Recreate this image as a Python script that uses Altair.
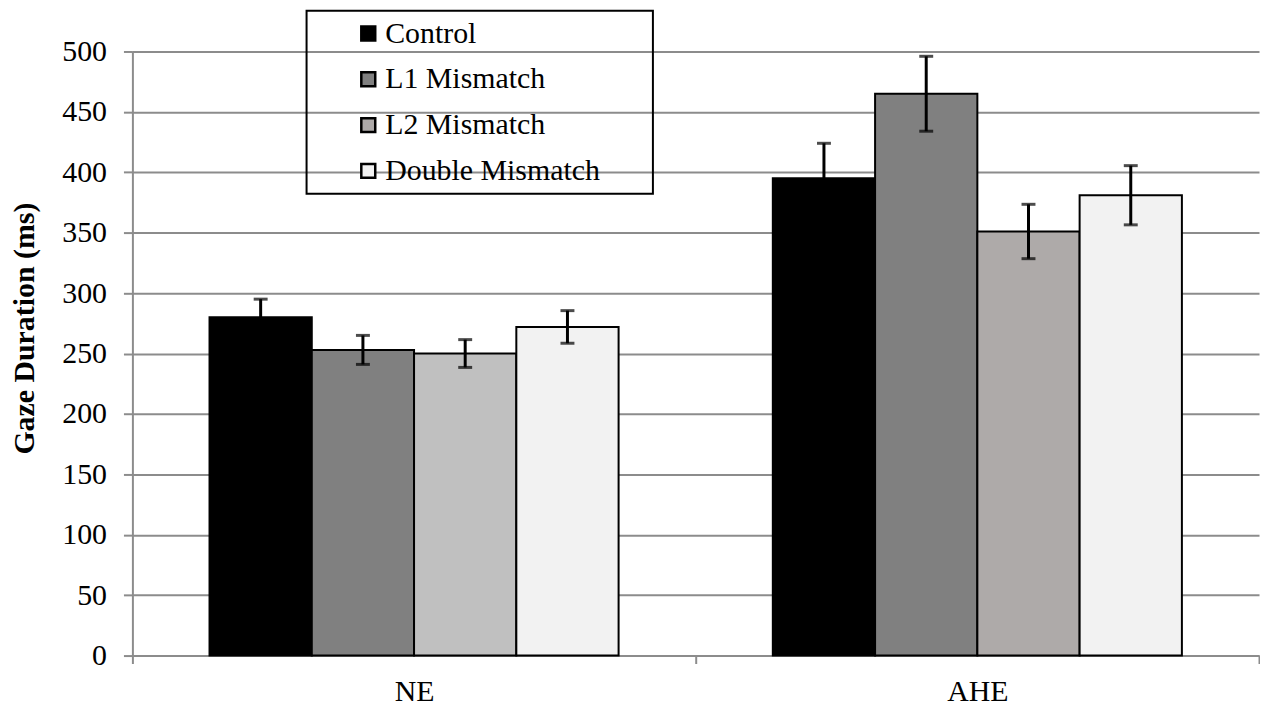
import altair as alt
import pandas as pd

groups = ["NE", "AHE"]
conditions = ["Control", "L1 Mismatch", "L2 Mismatch", "Double Mismatch"]
ne_means = [280, 253, 250, 272]
ne_errors = [15, 12, 11.5, 13.5]
ahe_means = [395, 465, 351, 381]
ahe_errors = [29, 31, 22.5, 24.5]
y_ticks = [0, 50, 100, 150, 200, 250, 300, 350, 400, 450, 500]

rows = []
for g, means, errs in [("NE", ne_means, ne_errors), ("AHE", ahe_means, ahe_errors)]:
    for c, m, e in zip(conditions, means, errs):
        rows.append({"group": g, "condition": c, "mean": m, "lo": m - e, "hi": m + e})
df = pd.DataFrame(rows)

FONT = "Liberation Serif"
GRAY = "#8c8c8c"
palette = ["#000000", "#808080", "#aeaaa9", "#f2f2f2"]

x_enc = alt.X(
    "group:N",
    sort=groups,
    scale=alt.Scale(paddingInner=0, paddingOuter=0),
    axis=alt.Axis(
        title=None, labelAngle=0, tickBand="extent", grid=False,
        labelFont=FONT, labelFontSize=30, labelColor="black",
        labelBaseline="alphabetic", labelPadding=37,
        tickSize=8, tickColor=GRAY, tickWidth=2,
        domainColor=GRAY, domainWidth=2,
    ),
)
xoff_enc = alt.XOffset(
    "condition:N", sort=conditions,
    scale=alt.Scale(paddingInner=0, paddingOuter=0.754),
)
y_enc = alt.Y(
    "mean:Q",
    scale=alt.Scale(domain=[0, 500], nice=False, zero=True),
    axis=alt.Axis(
        values=y_ticks, title="Gaze Duration (ms)",
        titleFont=FONT, titleFontSize=30, titleFontWeight="bold", titleColor="black",
        titleAngle=270, titleX=-99, titleY=278, titleAlign="center", titleBaseline="alphabetic",
        labelFont=FONT, labelFontSize=30, labelColor="black", labelPadding=17,
        tickSize=9, tickColor=GRAY, tickWidth=2,
        domainColor=GRAY, domainWidth=2,
        gridColor=GRAY, gridWidth=2,
    ),
)

pad_tail = "\u00a0" * 6 + "\u200b"
fill_enc = alt.condition(
    "datum.group == 'NE' && datum.condition == 'L2 Mismatch'",
    alt.value("#c0c0c0"),
    alt.Fill(
        "condition:N", sort=conditions,
        scale=alt.Scale(domain=conditions, range=palette),
        legend=alt.Legend(
            title=None, orient="none", legendX=175, legendY=-41, direction="vertical",
            padding=8, strokeColor="black",
            symbolType="square", symbolSize=196, symbolStrokeColor="black", symbolStrokeWidth=2.5,
            symbolOffset=39, labelOffset=2,
            labelFont=FONT, labelFontSize=30, labelColor="black", labelLimit=1000,
            rowPadding=16, labelExpr="datum.label + '" + pad_tail + "'",
        ),
    ),
)

base = alt.Chart(df)
bars = base.mark_bar(stroke="black", strokeWidth=2).encode(
    x=x_enc, xOffset=xoff_enc, y=y_enc, fill=fill_enc
)
rule = base.mark_rule(color="black", strokeWidth=3).encode(
    x=x_enc, xOffset=xoff_enc, y=alt.Y("lo:Q"), y2=alt.Y2("hi:Q")
)
cap_hi = base.mark_tick(color="black", thickness=3, size=14).encode(
    x=x_enc, xOffset=xoff_enc, y=alt.Y("hi:Q")
)
cap_lo = base.mark_tick(color="black", thickness=3, size=14).encode(
    x=x_enc, xOffset=xoff_enc, y=alt.Y("lo:Q")
)

chart = (
    alt.layer(bars, rule, cap_hi, cap_lo)
    .properties(
        width=1132, height=607, autosize="none",
        padding={"left": 125, "top": 42, "right": 1, "bottom": 50},
        background="white",
    )
    .configure_view(stroke=None)
    .configure_legend(strokeWidth=2)
)

chart.save("out.html", embed_options={"renderer": "svg", "actions": False})
